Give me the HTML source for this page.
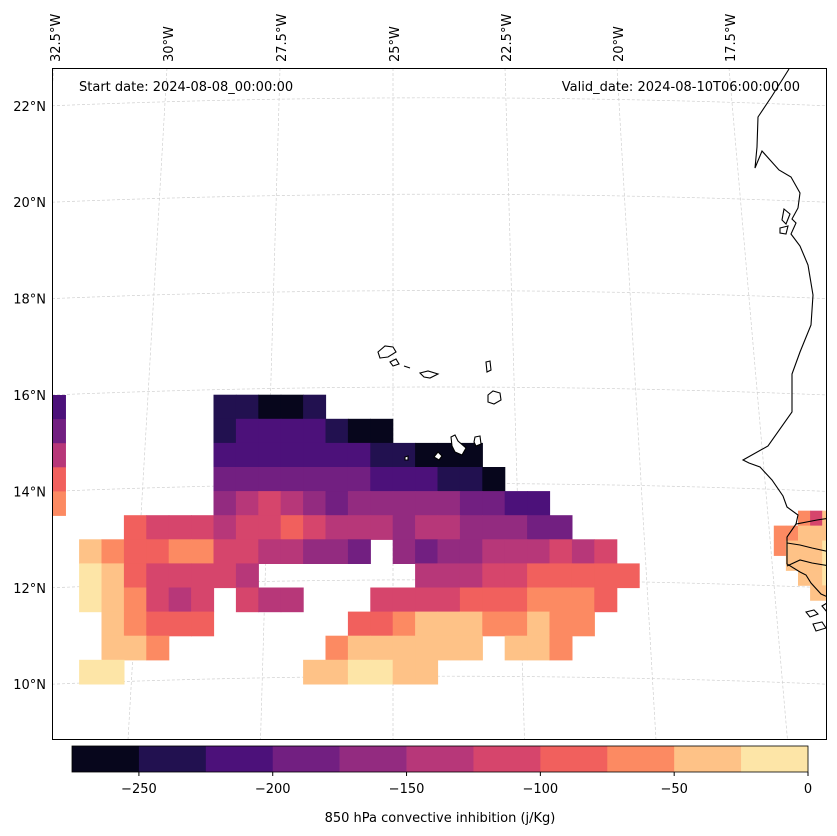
<!DOCTYPE html>
<html><head><meta charset="utf-8"><style>
html,body{margin:0;padding:0;background:#fff;}
svg{display:block;font-family:"DejaVu Sans","Liberation Sans",sans-serif;}
</style></head><body>
<svg id="chart" width="837" height="836" viewBox="0 0 837 836">
<defs><clipPath id="mapclip"><rect x="52.5" y="68.5" width="774" height="671"/></clipPath></defs>
<g id="grid" stroke="#d0d0d0" stroke-width="0.7" stroke-dasharray="3,2" fill="none" clip-path="url(#mapclip)"></g>
<g id="cells" clip-path="url(#mapclip)"></g>
<g id="coast" fill="none" stroke="#000" stroke-width="1.1" clip-path="url(#mapclip)">
<path d="M789,69 L772,96 L758,117 L757,147 L755,168 L762,151 L779,170 L791,177 L800,193 L798,208 L792,219 L796,223 L791,234 L800,246 L808,265 L813,295 L811,325 L800,352 L792,374 L792,412 L768,446 L743,460 L749,463 L760,467 L772,480 L783,496 L787,507 L798,515 L796,524 L817,520 L830,518"/>
<path d="M796,524 L787,537 L787,564 L800,572 L806,575 L811,583 L821,594 L830,598"/>
<path d="M787,543 L800,545 L812,548 L830,552 M787,566 L800,560 L812,563 L830,566"/>
<path d="M806,612 L814,610 L818,614 L810,617 Z M813,624 L822,622 L826,628 L816,631 Z M822,606 L827,603 L827,612 Z"/>
<path d="M784,209 L790,214 L786,224 L782,220 Z M780,228 L788,226 L786,234 L780,233 Z"/>
</g>
<g id="islands" fill="#fff" stroke="#000" stroke-width="1.1">
<path d="M378,352 L385,346 L393,347 L396,352 L388,357 L380,358 Z"/>
<path d="M390,362 L396,359 L399,364 L393,366 Z"/>
<path d="M404,366 L410,368"/>
<path d="M420,373 L428,371 L438,374 L430,378 L424,377 Z"/>
<path d="M486,362 L490,361 L491,370 L487,372 Z"/>
<path d="M488,395 L493,391 L500,393 L501,400 L494,404 L488,402 Z"/>
<path d="M451,437 L455,435 L458,441 L466,448 L462,455 L455,452 L452,446 Z"/>
<path d="M475,437 L480,436 L481,444 L476,446 L474,442 Z"/>
<path d="M434,457 L438,452 L442,456 L439,460 Z"/>
<path d="M405,457 L408,456 L408,460 L405,460 Z"/>
</g>
<rect x="52.5" y="68.5" width="774" height="671" fill="none" stroke="#000" stroke-width="1"/>
<text x="79" y="91" font-size="13">Start date: 2024-08-08_00:00:00</text>
<text x="800" y="91" font-size="13" text-anchor="end">Valid_date: 2024-08-10T06:00:00.00</text>
<g id="latlabels" font-size="13"></g>
<g id="lonlabels" font-size="13"></g>
<g id="cbar"></g>
<text x="440" y="822" font-size="13" text-anchor="middle">850 hPa convective inhibition (j/Kg)</text>
</svg>
<script>
const _ = null;
// CIN grid: rows from 16N southward in 0.5° steps, columns from 32.5W eastward in 0.5° steps
const cinRow0  = [_,_,_,_,_,_,_,-235,-235,-260,-260,-235,_,_,_,_,_,_,_,_,_,_,_,_,_,_];
const cinRow1  = [_,_,_,_,_,_,_,-235,-210,-210,-210,-210,-235,-260,-260,_,_,_,_,_,_,_,_,_,_,_];
const cinRow2  = [_,_,_,_,_,_,_,-210,-210,-210,-210,-210,-210,-210,-235,-235,-260,-260,-260,_,_,_,_,_,_,_];
const cinRow3  = [_,_,_,_,_,_,_,-185,-185,-185,-185,-185,-185,-185,-210,-210,-210,-235,-235,-260,_,_,_,_,_,_];
const cinRow4  = [_,_,_,_,_,_,_,-160,-135,-110,-135,-160,-185,-160,-160,-160,-160,-160,-185,-185,-210,-210,_,_,_,_];
const cinRow5  = [_,_,_,-85,-110,-110,-110,-135,-110,-110,-85,-110,-135,-135,-135,-160,-135,-135,-160,-160,-160,-185,-185,_,_,_];
const cinRow6  = [_,-35,-60,-85,-85,-60,-60,-110,-110,-135,-135,-160,-160,-185,_,-160,-185,-160,-160,-135,-135,-135,-110,-135,-110,_];
const cinRow7  = [_,-10,-35,-85,-110,-110,-110,-110,-135,_,_,_,_,_,_,_,-135,-135,-135,-110,-110,-85,-85,-85,-85,-85];
const cinRow8  = [_,-10,-35,-60,-110,-135,-110,_,-110,-135,-135,_,_,_,-110,-110,-110,-110,-85,-85,-85,-60,-60,-60,-85,_];
const cinRow9  = [_,_,-35,-60,-85,-85,-85,_,_,_,_,_,_,-85,-85,-60,-35,-35,-35,-60,-60,-35,-60,-60,_,_];
const cinRow10 = [_,_,-35,-35,-60,_,_,_,_,_,_,_,-60,-35,-35,-35,-35,-35,-35,_,-35,-35,-60,_,_,_];
const cinRow11 = [_,-10,-10,_,_,_,_,_,_,_,_,-35,-35,-10,-10,-35,-35,_,_,_,_,_,_,_,_,_];
const cinGrid = [cinRow0,cinRow1,cinRow2,cinRow3,cinRow4,cinRow5,cinRow6,cinRow7,cinRow8,cinRow9,cinRow10,cinRow11];
// western edge strip (33W-32.5W) per row
const westStrip = [-210,-185,-135,-85,-60];
// Senegal patch (finer grid starting near 16.5W, 13.6N)
const africaRow0 = [_,_,-60,-110,-35,-35];
const africaRow1 = [-60,-60,-35,-35,-35,-35];
const africaRow2 = [-60,-35,-35,-35,-10,-10];
const africaRow3 = [_,-35,-35,-35,-10,-10];
const africaRow4 = [_,_,-35,-35,-10,-10];
const africaRow5 = [_,_,_,-35,-35,-10];
const africaGrid = [africaRow0,africaRow1,africaRow2,africaRow3,africaRow4,africaRow5];
// colorbar
const levels = [-275,-250,-225,-200,-175,-150,-125,-100,-75,-50,-25,0];
const levelColors = ["#07061c","#221150","#4c117a","#721f81","#932b80","#b73779","#d6456c","#f1605d","#fc8a62","#fec287","#fde5a7"];
const tickValues = [-250,-200,-150,-100,-50,0];
const tickLabels = ["\u2212250","\u2212200","\u2212150","\u2212100","\u221250","0"];
const latTicks = [22,20,18,16,14,12,10];
const lonTicks = [-32.5,-30,-27.5,-25,-22.5,-20,-17.5];

const NS="http://www.w3.org/2000/svg";
function xScale(lon){return 57+(lon+32.5)*44.8;}
function yScale(lat){return 395+(16-lat)*48.2;}
function colorFor(v){let i=Math.floor((v-levels[0])/25);i=Math.max(0,Math.min(levelColors.length-1,i));return levelColors[i];}
function mk(tag,attrs,parent){const e=document.createElementNS(NS,tag);for(const k in attrs)e.setAttribute(k,attrs[k]);parent.appendChild(e);return e;}

const cells=document.getElementById('cells');
cinGrid.forEach((row,r)=>{row.forEach((v,c)=>{if(v===null)return;
  const lon=-32.5+0.5*c, lat=16-0.5*r;
  const x0=xScale(lon),x1=xScale(lon+0.5),y0=yScale(lat),y1=yScale(lat-0.5);
  const el=mk('rect',{x:x0-0.3,y:y0-0.3,width:x1-x0+0.6,height:y1-y0+0.6,fill:colorFor(v)},cells);
  
  
});});
westStrip.forEach((v,r)=>{const lat=16-0.5*r;const y0=yScale(lat),y1=yScale(lat-0.5);
  const el=mk('rect',{x:52,y:y0,width:xScale(-32.5+0.2)-52,height:y1-y0+0.4,fill:colorFor(v)},cells);
  
  
});
africaGrid.forEach((row,r)=>{row.forEach((v,c)=>{if(v===null)return;
  const lon=-16.5+0.27*c, lat=13.6-0.31*r;
  const x0=xScale(lon),x1=xScale(lon+0.27),y0=yScale(lat),y1=yScale(lat-0.31);
  const el=mk('rect',{x:x0,y:y0,width:x1-x0+0.4,height:y1-y0+0.4,fill:colorFor(v)},cells);
  
  
});});

const grid=document.getElementById('grid');
const latL=document.getElementById('latlabels');
latTicks.forEach(lat=>{const y=yScale(lat);
  const el=mk('path',{d:`M52,${y} Q440,${y-16} 827,${y}`},grid);
  
  
  const t=mk('text',{x:46,y:y+5,'text-anchor':'end'},latL);t.textContent=lat+'\u00b0N';
  
  
});
const lonL=document.getElementById('lonlabels');
lonTicks.forEach(lon=>{const xt=xScale(lon)+ (lon<-25? (lon+25)*0.4:0);
  const xb=xt+(lon+25)*7.8;
  const el=mk('line',{x1:xt,y1:68,x2:xb,y2:740},grid);
  
  
  const t=mk('text',{x:0,y:0,transform:`translate(${xt+6},62) rotate(-90)`},lonL);t.textContent=(-lon)+'\u00b0W';
  
  
});

const cbar=document.getElementById('cbar');
function cbX(v){return 72+(v-levels[0])/(levels[levels.length-1]-levels[0])*736;}
for(let i=0;i<levelColors.length;i++){
  const el=mk('rect',{x:cbX(levels[i]),y:746,width:cbX(levels[i+1])-cbX(levels[i])+0.3,height:26,fill:levelColors[i]},cbar);
  
  
}
const fr=mk('rect',{x:72,y:746,width:736,height:26,fill:'none',stroke:'#000','stroke-width':0.8},cbar);


tickValues.forEach((v,i)=>{const x=cbX(v);
  const tk=mk('line',{x1:x,y1:772,x2:x,y2:776,stroke:'#000'},cbar);
  
  
  const t=mk('text',{x:x,y:793,'text-anchor':'middle','font-size':13},cbar);t.textContent=tickLabels[i];
  
  
});
</script>
</body></html>
